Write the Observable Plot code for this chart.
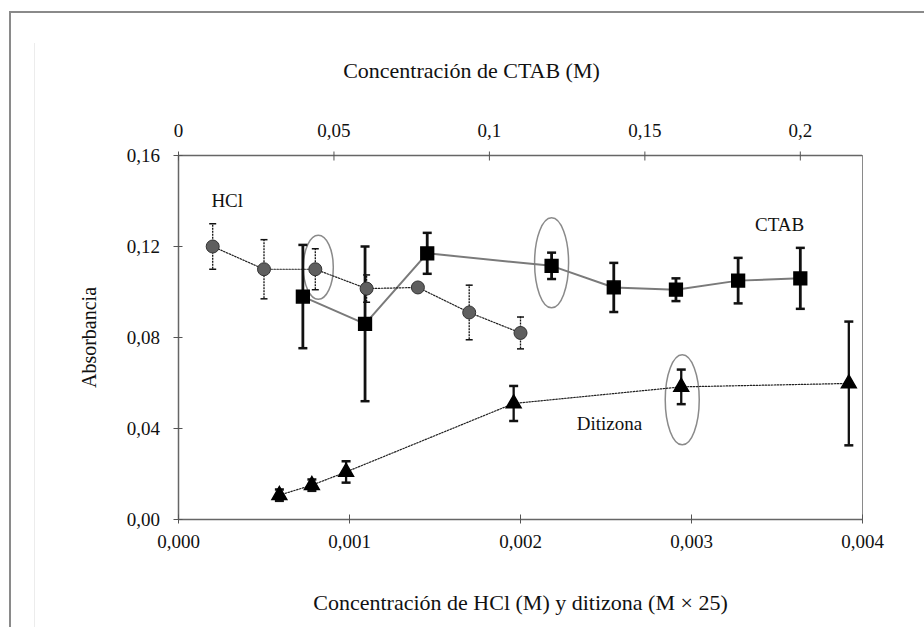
<!DOCTYPE html>
<html><head><meta charset="utf-8">
<script src="https://cdn.jsdelivr.net/npm/d3@7"></script>
<script src="https://cdn.jsdelivr.net/npm/@observablehq/plot@0.6"></script>
<style>
body{margin:0;background:#fff;}
#wrap{position:relative;width:924px;height:627px;overflow:hidden;background:#fff;}
#wrap svg{position:absolute;left:0;top:0;z-index:1;}
#border{position:absolute;left:9px;top:11px;width:940px;height:640px;border-left:2px solid #8a8a8a;border-top:2px solid #8a8a8a;z-index:2;pointer-events:none;}
#faint{position:absolute;left:34px;top:43px;height:600px;border-left:1px solid #ececec;z-index:2;}
</style></head>
<body><div id="wrap"></div>
<script>
// HCl series (bottom axis, M)
const hclX = [0.0002, 0.0005, 0.0008, 0.0011, 0.0014, 0.0017, 0.0020];
const hclY = [0.120, 0.110, 0.110, 0.1015, 0.102, 0.091, 0.082];
const hclErr = [0.010, 0.013, 0.009, 0.006, 0, 0.012, 0.007];
// CTAB series (top axis, M)
const ctabX = [0.04, 0.06, 0.08, 0.12, 0.14, 0.16, 0.18, 0.20];
const ctabY = [0.098, 0.086, 0.117, 0.1115, 0.102, 0.101, 0.105, 0.106];
const ctabErr = [0.0227, 0.034, 0.009, 0.0058, 0.0108, 0.005, 0.010, 0.0134];
// Ditizona series (bottom axis, M x 25)
const ditX = [0.00059, 0.00078, 0.00098, 0.00196, 0.00294, 0.00392];
const ditY = [0.0107, 0.0151, 0.0209, 0.051, 0.0583, 0.0598];
const ditErr = [0.0025, 0.0025, 0.0047, 0.0077, 0.0076, 0.0272];
// ticks
const xTicks = [0, 0.001, 0.002, 0.003, 0.004];
const ctabTicks = [0, 0.05, 0.1, 0.15, 0.2];
const yTicks = [0, 0.04, 0.08, 0.12, 0.16];
const xDomain = [0, 0.004];
const ctabDomain = [0, 0.22];
const yDomain = [0, 0.16];
// series labels
const seriesNames = ["HCl", "CTAB", "Ditizona"];
const seriesLabelX = [0.000285, 0.003515, 0.00252];
const seriesLabelY = [0.1402, 0.1297, 0.0422];
const titleTop = "Concentración de CTAB (M)";
const titleBottom = "Concentración de HCl (M) y ditizona (M × 25)";
const titleY = "Absorbancia";

const k = xDomain[1] / ctabDomain[1];
const hcl = hclX.map((x, i) => ({x, y: hclY[i], e: hclErr[i]}));
const ctab = ctabX.map((x, i) => ({x: x * k, y: ctabY[i], e: ctabErr[i]}));
const dit = ditX.map((x, i) => ({x, y: ditY[i], e: ditErr[i]}));
const labels = seriesNames.map((t, i) => ({t, x: seriesLabelX[i], y: seriesLabelY[i]}));

const comma = s => s.replace(".", ",");
const cap = w => ({draw(c) { c.moveTo(-w, 0); c.lineTo(w, 0); }});
const ellipse = (rx, ry) => ({draw(c) {
  const m = 0.5522847498, a = rx * m, b = ry * m;
  c.moveTo(rx, 0);
  c.bezierCurveTo(rx, b, a, ry, 0, ry);
  c.bezierCurveTo(-a, ry, -rx, b, -rx, 0);
  c.bezierCurveTo(-rx, -b, -a, -ry, 0, -ry);
  c.bezierCurveTo(a, -ry, rx, -b, rx, 0);
  c.closePath();
}});

function errorMarks(data, stroke, sw, dash, capW, capSw) {
  const d = data.filter(v => v.e > 0);
  return [
    Plot.ruleX(d, {x: "x", y1: v => v.y - v.e, y2: v => v.y + v.e, stroke, strokeWidth: sw, strokeDasharray: dash}),
    Plot.dot(d, {x: "x", y: v => v.y + v.e, symbol: cap(capW), stroke, strokeWidth: capSw, fill: "none"}),
    Plot.dot(d, {x: "x", y: v => v.y - v.e, symbol: cap(capW), stroke, strokeWidth: capSw, fill: "none"})
  ];
}

const font = "'Liberation Serif', 'Times New Roman', serif";
const chart = Plot.plot({
  width: 924, height: 627,
  marginLeft: 178, marginRight: 62, marginTop: 155, marginBottom: 108,
  style: {fontFamily: font, fontSize: "19px", background: "transparent", color: "#111"},
  x: {domain: xDomain},
  y: {domain: yDomain},
  marks: [
    Plot.frame({stroke: "#8a8a8a", strokeWidth: 1}),
    Plot.ruleY([0, 0.16], {stroke: "#666", strokeWidth: 1.5}),
    Plot.ruleX([0], {stroke: "#666", strokeWidth: 1.5}),
    Plot.axisY(yTicks, {anchor: "left", tickSize: 9, dx: 4.5, tickPadding: 14, stroke: "#555", fill: "#111",
      tickFormat: d => comma(d.toFixed(2)), label: null, fontSize: 19}),
    Plot.axisX(xTicks, {anchor: "bottom", tickSize: 9, dy: -4.5, tickPadding: 10, stroke: "#555", fill: "#111",
      tickFormat: d => comma(d.toFixed(3)), label: null, fontSize: 19}),
    Plot.axisX(ctabTicks.map(t => t * k), {anchor: "top", tickSize: 9, dy: 4.5, tickPadding: 14, stroke: "#555", fill: "#111",
      tickFormat: d => comma(String(Math.round(d / k * 100) / 100)), label: null, fontSize: 19}),
    Plot.text([titleTop], {frameAnchor: "top", lineAnchor: "middle", text: d => d, dx: -49, dy: -85, fontSize: 22, fill: "#111"}),
    Plot.text([titleBottom], {frameAnchor: "bottom", lineAnchor: "middle", text: d => d, dy: 83, fontSize: 22, fill: "#111"}),
    Plot.text([titleY], {frameAnchor: "left", textAnchor: "middle", lineAnchor: "middle", text: d => d, dx: -89, rotate: -90, fontSize: 20, fill: "#111"}),
    // ellipses
    Plot.dot([hcl[2]], {x: "x", y: "y", symbol: ellipse(15, 32), dx: 3, dy: -2, stroke: "#8a8a8a", strokeWidth: 1.5, fill: "none"}),
    Plot.dot([ctab[3]], {x: "x", y: "y", symbol: ellipse(17, 45), dy: -3, stroke: "#8a8a8a", strokeWidth: 1.5, fill: "none"}),
    Plot.dot([dit[4]], {x: "x", y: "y", symbol: ellipse(17, 45), dx: 1, dy: 13, stroke: "#8a8a8a", strokeWidth: 1.5, fill: "none"}),
    // lines
    Plot.line(ctab, {x: "x", y: "y", stroke: "#7a7a7a", strokeWidth: 2}),
    Plot.line(hcl, {x: "x", y: "y", stroke: "#222", strokeWidth: 1.2, strokeDasharray: "1.5,1.5"}),
    Plot.line(dit, {x: "x", y: "y", stroke: "#222", strokeWidth: 1.2, strokeDasharray: "1.5,1.5"}),
    // error bars
    ...errorMarks(hcl, "#111", 1.3, "2,1", 3.5, 1.5),
    ...errorMarks(ctab, "#111", 2.8, null, 4.5, 2.5),
    ...errorMarks(dit, "#111", 2.3, null, 4.5, 2.5),
    // points
    Plot.dot(hcl, {x: "x", y: "y", r: 6.5, fill: "#5f5f5f", stroke: "#333", strokeWidth: 1}),
    Plot.dot(ctab, {x: "x", y: "y", symbol: "square", r: 7.2, fill: "#000", stroke: "#000"}),
    Plot.dot(dit, {x: "x", y: "y", symbol: "triangle", r: 5.5, fill: "#000", stroke: "#000"}),
    // series labels
    Plot.text(labels, {x: "x", y: "y", text: "t", fontSize: 19, fill: "#111"})
  ]
});
const wrap = document.getElementById("wrap");
wrap.appendChild(chart);
const f = document.createElement("div"); f.id = "faint"; wrap.appendChild(f);
const b = document.createElement("div"); b.id = "border"; wrap.appendChild(b);
</script>
</body></html>
